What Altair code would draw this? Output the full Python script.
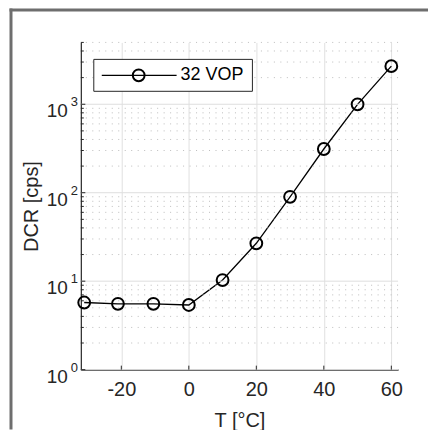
import altair as alt
import pandas as pd

# ---- data ----
T = [-31, -21, -10.5, 0, 10, 20, 30, 40, 50, 60]
DCR = [5.74, 5.55, 5.55, 5.38, 10.3, 26.8, 89.9, 312, 998, 2697]
series = "32 VOP"
x_ticks = [-20, 0, 20, 40, 60]
y_major = [1, 10, 100, 1000]
y_exp = ["0", "1", "2", "3"]
y_minor = [2, 3, 4, 5, 6, 7, 8, 9,
           20, 30, 40, 50, 60, 70, 80, 90,
           200, 300, 400, 500, 600, 700, 800, 900,
           2000, 3000, 4000, 5000]

W, H = 318, 328
FONT = "Liberation Sans"
INK = "#262626"

main = pd.DataFrame({"T": T, "DCR": DCR})
major_df = pd.DataFrame({"DCR": y_major, "e": y_exp})
minor_df = pd.DataFrame({"DCR": y_minor})
xt_df = pd.DataFrame({"T": x_ticks})
one = pd.DataFrame({"label": [series]})

xs = alt.Scale(domain=[-32, 62], nice=False, zero=False)
ys = alt.Scale(type="log", domain=[1, 5000], nice=False)

x_axis = alt.Axis(values=x_ticks, grid=True, gridColor="#e0e0e0", gridWidth=1,
                  ticks=False, labelPadding=10, labelFont=FONT, labelFontSize=20,
                  labelColor=INK, labelFlush=False, labelExpr="datum.value + ''",
                  domainColor=INK, domainWidth=1.2,
                  title="T [°C]", titleFont=FONT, titleFontSize=20,
                  titleFontWeight="normal", titleColor=INK, titleY=51,
                  titleBaseline="middle")
y_axis = alt.Axis(grid=False, labels=False, ticks=False, domainColor=INK,
                  domainWidth=1.2, title="DCR [cps]", titleFont=FONT,
                  titleFontSize=20, titleFontWeight="normal", titleColor=INK,
                  titleX=-49, titleY=164, titleAngle=270, titleBaseline="middle",
                  titleAlign="center")

X = alt.X("T:Q", scale=xs, axis=x_axis)
Y = alt.Y("DCR:Q", scale=ys, axis=y_axis)

line = alt.Chart(main).mark_line(color="black", strokeWidth=1.3).encode(x=X, y=Y)
pts = alt.Chart(main).mark_point(shape="circle", filled=False, color="black",
                                 strokeWidth=2, size=140, opacity=1).encode(x=X, y=Y)

hgrid_major = alt.Chart(major_df).mark_rule(color="#dedede", strokeWidth=1).encode(y=Y)
hgrid_minor = alt.Chart(minor_df).mark_rule(color="#bdbdbd", strokeWidth=1,
                                           strokeDash=[1, 5.5]).encode(y=Y)

xtick = alt.Chart(xt_df).mark_rule(color=INK, strokeWidth=1).encode(
    x=X, y=alt.value(H), y2=alt.value(H - 4))
ytick_major = alt.Chart(major_df).mark_rule(color=INK, strokeWidth=1).encode(
    y=Y, x=alt.value(0), x2=alt.value(4.5))
ytick_minor = alt.Chart(minor_df).mark_rule(color=INK, strokeWidth=1).encode(
    y=Y, x=alt.value(0), x2=alt.value(3))

ylab_base = alt.Chart(major_df).mark_text(text="10", align="right", baseline="middle",
                                          font=FONT, fontSize=19, color=INK, dy=7).encode(
    y=Y, x=alt.value(-13))
ylab_exp = alt.Chart(major_df).mark_text(align="left", baseline="middle", font=FONT,
                                         fontSize=13, color=INK, dy=-2).encode(
    y=Y, x=alt.value(-10), text="e:N")

leg_box = alt.Chart(one).mark_rect(fill="white", stroke=INK, strokeWidth=1).encode(
    x=alt.value(13), x2=alt.value(172), y=alt.value(17), y2=alt.value(49))
leg_line = alt.Chart(one).mark_rule(color="black", strokeWidth=1.3).encode(
    x=alt.value(21), x2=alt.value(96), y=alt.value(33))
leg_pt = alt.Chart(one).mark_point(shape="circle", filled=False, color="black",
                                   strokeWidth=2, size=140, opacity=1).encode(
    x=alt.value(58), y=alt.value(33))
leg_txt = alt.Chart(one).mark_text(align="left", baseline="middle", font=FONT,
                                   fontSize=18, color="black").encode(
    x=alt.value(100), y=alt.value(33), text="label:N")

frame_left = alt.Chart(one).mark_rule(color="#6e6e6e", strokeWidth=3).encode(
    x=alt.value(-70), y=alt.value(-34), y2=alt.value(H + 60))
frame_top = alt.Chart(one).mark_rule(color="#6e6e6e", strokeWidth=3).encode(
    y=alt.value(-32.5), x=alt.value(-71.5), x2=alt.value(W + 30))

chart = alt.layer(
    line, hgrid_major, hgrid_minor, xtick, ytick_major, ytick_minor,
    pts, ylab_base, ylab_exp, leg_box, leg_line, leg_pt, leg_txt,
    frame_left, frame_top,
).properties(
    width=W, height=H,
    autosize=alt.AutoSizeParams(type="none"),
    padding={"left": 73, "top": 34, "right": 30, "bottom": 60},
    background="white",
).configure_view(stroke=None)

chart.save("out.html", embed_options={"renderer": "svg", "actions": False})
